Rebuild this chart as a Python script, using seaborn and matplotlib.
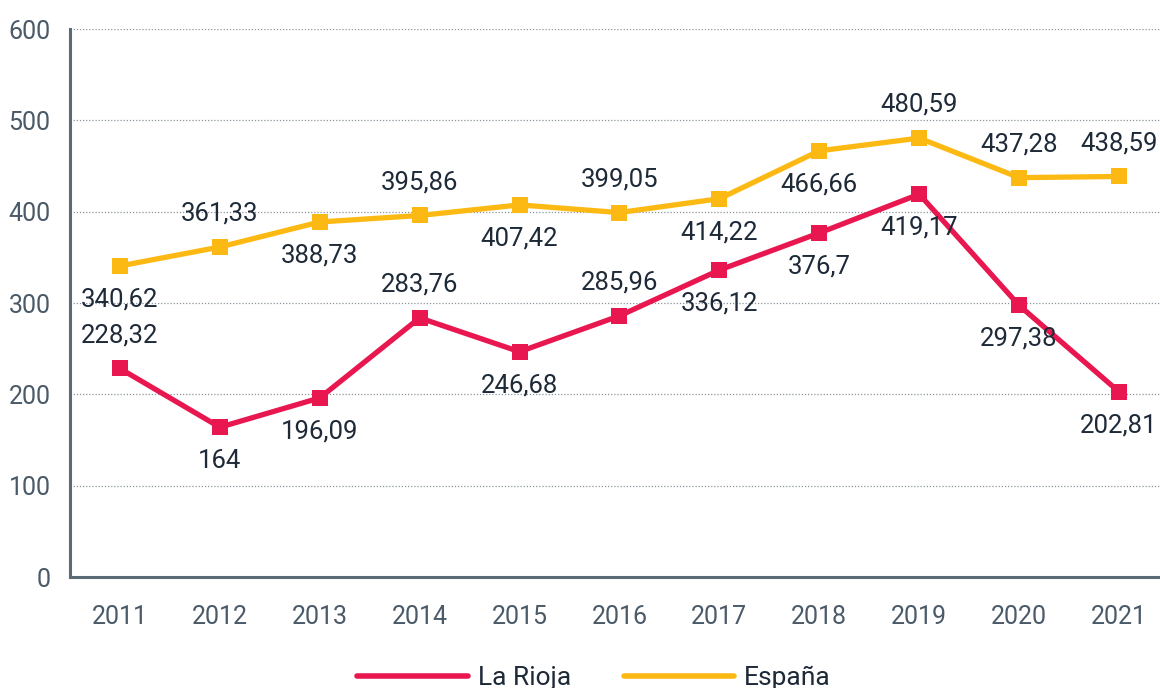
import matplotlib.pyplot as plt
import numpy as np
import pandas as pd
import seaborn as sns
from matplotlib.lines import Line2D

YEARS = [2011, 2012, 2013, 2014, 2015, 2016, 2017, 2018, 2019, 2020, 2021]
LA_RIOJA = [228.32, 164, 196.09, 283.76, 246.68, 285.96, 336.12, 376.7, 419.17, 297.38, 202.81]
ESPANA = [340.62, 361.33, 388.73, 395.86, 407.42, 399.05, 414.22, 466.66, 480.59, 437.28, 438.59]
# label above (+1) or below (-1) the point
RIOJA_POS = [1, -1, -1, 1, -1, 1, -1, -1, -1, -1, -1]
ESPANA_POS = [-1, 1, -1, 1, -1, 1, -1, -1, 1, 1, 1]

RED = "#E8174F"
YELLOW = "#FDB913"
AXIS = "#5A6B78"
TICKTEXT = "#4A5A68"
TEXT = "#1E2A38"

sns.set_theme(style="white")
plt.rcParams["font.family"] = ["Roboto", "DejaVu Sans"]

df = pd.DataFrame(
    {
        "year": YEARS * 2,
        "value": LA_RIOJA + ESPANA,
        "serie": ["La Rioja"] * len(YEARS) + ["España"] * len(YEARS),
    }
)

fig = plt.figure(figsize=(11.6, 6.88), dpi=100)
ax = fig.add_axes([0.0603, 0.1613, 0.9397, 0.7965])

sns.lineplot(
    data=df,
    x="year",
    y="value",
    hue="serie",
    palette={"La Rioja": RED, "España": YELLOW},
    marker="s",
    markersize=12,
    markeredgewidth=0,
    linewidth=3.8,
    ax=ax,
    legend=False,
)


def fmt(v):
    s = f"{v:.2f}".rstrip("0").rstrip(".")
    return s.replace(".", ",")


for vals, pos in ((LA_RIOJA, RIOJA_POS), (ESPANA, ESPANA_POS)):
    for x, y, p in zip(YEARS, vals, pos):
        ax.annotate(
            fmt(y),
            (x, y),
            textcoords="offset points",
            xytext=(0, 24 * p),
            ha="center",
            va="center",
            fontsize=18.5,
            color=TEXT,
        )

ax.set_xlim(2010.5, 2021.41)
ax.set_ylim(0, 600)
ax.set_yticks(np.arange(0, 601, 100))
ax.set_xticks(YEARS)
ax.yaxis.grid(True, linestyle=(0, (1, 1.5)), color="#8A959E", linewidth=0.9)
ax.set_axisbelow(True)
for side in ("top", "right"):
    ax.spines[side].set_visible(False)
for side in ("left", "bottom"):
    ax.spines[side].set_color(AXIS)
    ax.spines[side].set_linewidth(2.2)
ax.tick_params(axis="x", direction="in", length=10, width=1.6, color=AXIS,
               labelsize=18, labelcolor=TICKTEXT, pad=20)
ax.tick_params(axis="y", length=0, labelsize=18, labelcolor=TICKTEXT, pad=14)
ax.set_xlabel("")
ax.set_ylabel("")

handles = [
    Line2D([], [], color=RED, linewidth=4),
    Line2D([], [], color=YELLOW, linewidth=4),
]
fig.legend(
    handles,
    ["La Rioja", "España"],
    loc="center",
    bbox_to_anchor=(0.512, 0.015),
    ncol=2,
    frameon=False,
    fontsize=19,
    handlelength=4.2,
    handletextpad=0.35,
    columnspacing=2.0,
    labelcolor=TEXT,
)

fig.savefig("out.png", dpi=100)
